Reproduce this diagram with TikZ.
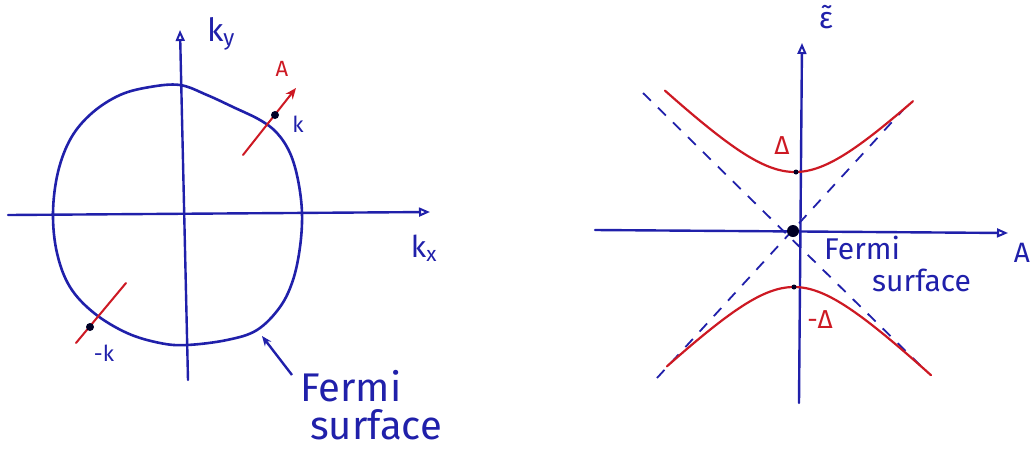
\documentclass[tikz,border=0pt]{standalone}
\usepackage{fontspec}
\setmainfont{Fira Sans}
\usetikzlibrary{arrows.meta}
\definecolor{pen}{RGB}{32,32,170}
\definecolor{redpen}{RGB}{205,25,35}
\tikzset{
  ax/.style={pen, line width=2.4pt, line cap=round, -{Triangle[open,length=11pt,width=9pt,line width=2pt]}},
  fs/.style={pen, line width=2.6pt},
  redl/.style={redpen, line width=2pt, line cap=round},
  dsh/.style={pen, line width=1.8pt, dash pattern=on 11pt off 10pt},
  dotn/.style={circle, fill=black!85!blue, inner sep=0pt, minimum size=8pt},
  lbl/.style={pen, inner sep=1pt, font=\fontsize{26}{30}\selectfont},
  rlbl/.style={redpen, inner sep=1pt, font=\fontsize{22}{26}\selectfont},
}
\begin{document}
\begin{tikzpicture}[x=1pt,y=-1pt]
\useasboundingbox (0,0) rectangle (1034,459);
% ---------- left panel ----------
\coordinate (kxs) at (8,215);
\coordinate (kxe) at (430,212);
\coordinate (kys) at (188,380);
\coordinate (kye) at (180,30);
\draw[ax] (kxs) -- (kxe);
\draw[ax] (kys) -- (kye);
\node[lbl, font=\fontsize{32}{34}\selectfont] (kylab) at (221,34) {k\textsubscript{y}};
\node[lbl, font=\fontsize{30}{34}\selectfont] (kxlab) at (424,248) {k\textsubscript{x}};
% Fermi surface
\draw[fs] plot[smooth cycle, tension=0.6] coordinates {
 (180,85) (150,87) (120,95) (92,113) (71,138) (58,172) (53,213) (57,253)
 (70,287) (94,313) (127,333) (160,343) (187,345) (227,340) (257,330)
 (280,307) (293,280) (300,247) (302,213) (298,180) (290,153) (277,133)
 (260,120) (233,107) (207,95)};
% red line through k
\coordinate (ks) at (243,155);
\coordinate (ke) at (296,88);
\draw[redl, -{Stealth[length=11pt,width=9pt]}] (ks) -- (ke);
\node[dotn] (kdot) at (275,115) {};
\node[rlbl] (Alab) at (282,69) {A};
\node[lbl, font=\fontsize{22}{26}\selectfont] (klab) at (298,124) {k};
% red line through -k
\coordinate (mks) at (76,343);
\coordinate (mke) at (126,283);
\draw[redl] (mks) -- (mke);
\node[dotn] (mkdot) at (90,327) {};
\node[lbl, font=\fontsize{22}{26}\selectfont] (mklab) at (104,353) {-k};
% Fermi surface pointer
\node[lbl, font=\fontsize{40}{38}\selectfont, align=left, anchor=north west, inner sep=0pt] (fslab) at (300,370) {Fermi\\\hspace*{10pt}surface};
\coordinate (fsarr) at (262,336);
\draw[pen, line width=2.4pt, -{Stealth[length=10pt,width=8pt]}] (292,375) -- (fsarr);
% ---------- right panel ----------
\coordinate (As) at (595,230);
\coordinate (Ae) at (1008,233);
\coordinate (es) at (799,403);
\coordinate (ee) at (802,43);
\draw[ax] (As) -- (Ae);
\draw[ax] (es) -- (ee);
\node[lbl, font=\fontsize{28}{30}\selectfont] (Alab2) at (1022,253) {A};
\node[lbl, font=\fontsize{30}{30}\selectfont] (elab) at (826,17) {\~{ε}};
% asymptotes
\coordinate (d1s) at (643,93);
\coordinate (d1e) at (925,370);
\coordinate (d2s) at (657,378);
\coordinate (d2e) at (903,110);
\draw[dsh] (d1s) -- (d1e);
\draw[dsh] (d2s) -- (d2e);
% hyperbolas (parameter in units of 100 px)
\draw[redl, line width=2.2pt] plot[domain=-1.30:1.18, samples=80, smooth] ({795+100*\x},{230-100*sqrt(0.3364+0.95*\x*\x)});
\draw[redl, line width=2.2pt] plot[domain=-1.27:1.37, samples=80, smooth] ({794+100*\x},{230+100*sqrt(0.3249+0.95*\x*\x)});
\node[dotn, minimum size=5pt] (vtop) at (796,172) {};
\node[dotn, minimum size=5pt] (vbot) at (794,287) {};
\node[dotn, minimum size=12pt] (origin) at (793,231) {};
\node[rlbl, font=\fontsize{26}{28}\selectfont] (Dlab) at (782,146) {Δ};
\node[rlbl, font=\fontsize{26}{28}\selectfont] (mDlab) at (820,320) {-Δ};
\node[lbl, font=\fontsize{30}{32}\selectfont, align=left, anchor=north west, inner sep=0pt] (fslab2) at (824,236) {Fermi\\\hspace*{48pt}surface};
\end{tikzpicture}
\end{document}
